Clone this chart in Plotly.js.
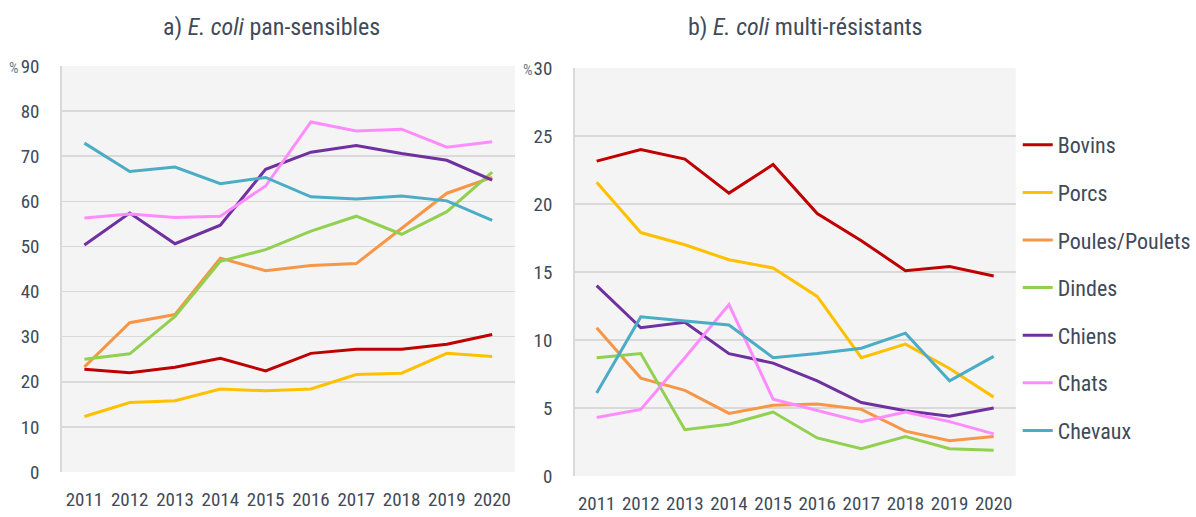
<!DOCTYPE html>
<html><head><meta charset="utf-8">
<script src="https://cdn.plot.ly/plotly-3.0.1.min.js"></script>
<style>html,body{margin:0;padding:0;background:#fff}#c{width:1196px;height:517px}</style>
</head><body><div id="c"></div>
<script>
const years = ['2011','2012','2013','2014','2015','2016','2017','2018','2019','2020'];
const seriesNames = ['Bovins','Porcs','Poules/Poulets','Dindes','Chiens','Chats','Chevaux'];
const seriesColors = ['#C00000','#FFC000','#F79646','#92D050','#7030A0','#FF8CFF','#4BACC6'];

// a) E. coli pan-sensibles (%)
const panBovins   = [22.8,22.0,23.2,25.2,22.4,26.3,27.2,27.2,28.3,30.5];
const panPorcs    = [12.3,15.4,15.8,18.4,18.0,18.4,21.6,21.9,26.3,25.6];
const panPoules   = [23.3,33.1,34.9,47.4,44.6,45.8,46.2,53.9,61.8,65.3];
const panDindes   = [25.0,26.2,34.5,46.7,49.3,53.4,56.7,52.7,57.7,66.5];
const panChiens   = [50.3,57.4,50.6,54.7,67.1,70.9,72.4,70.6,69.1,64.7];
const panChats    = [56.3,57.2,56.4,56.7,63.4,77.6,75.6,76.0,72.0,73.2];
const panChevaux  = [72.9,66.6,67.6,63.9,65.3,61.0,60.5,61.2,60.1,55.8];

// b) E. coli multi-résistants (%)
const mrBovins   = [23.15,24.0,23.3,20.8,22.9,19.3,17.3,15.1,15.4,14.7];
const mrPorcs    = [21.6,17.9,17.0,15.9,15.3,13.2,8.7,9.7,7.9,5.8];
const mrPoules   = [10.9,7.2,6.3,4.6,5.2,5.3,4.9,3.3,2.6,2.9];
const mrDindes   = [8.7,9.0,3.4,3.8,4.7,2.8,2.0,2.9,2.0,1.9];
const mrChiens   = [14.0,10.9,11.3,9.0,8.3,7.0,5.4,4.8,4.4,5.0];
const mrChats    = [4.3,4.9,8.7,12.6,5.65,4.8,4.0,4.7,4.0,3.1];
const mrChevaux  = [6.1,11.7,11.4,11.1,8.7,9.0,9.4,10.5,7.0,8.8];

const panTickVals = [0,10,20,30,40,50,60,70,80,90];
const mrTickVals = [0,5,10,15,20,25,30];

const titleA = 'a) <i>E. coli</i> pan-sensibles';
const titleB = 'b) <i>E. coli</i> multi-résistants';

const FONT = '"Liberation Sans Narrow", "Arial Narrow", "Roboto Condensed", "Liberation Sans", sans-serif';
const TXT = '#404A59';
const GRID = '#D9D9D9';

const panData = [panBovins,panPorcs,panPoules,panDindes,panChiens,panChats,panChevaux];
const mrData = [mrBovins,mrPorcs,mrPoules,mrDindes,mrChiens,mrChats,mrChevaux];

const traces = [];
panData.forEach((ys,i)=>traces.push({
  x: years, y: ys, type:'scatter', mode:'lines', name: seriesNames[i],
  line:{color:seriesColors[i], width:3}, xaxis:'x', yaxis:'y', showlegend:false, hoverinfo:'skip'
}));
mrData.forEach((ys,i)=>traces.push({
  x: years, y: ys, type:'scatter', mode:'lines', name: seriesNames[i], legendgroup:'g'+i,
  line:{color:seriesColors[i], width:3}, xaxis:'x2', yaxis:'y2', showlegend:true, hoverinfo:'skip'
}));

const W=1196,H=517;
const px=(v)=>v/W, py=(v)=>1-v/H;

const xcommon = {type:'category', range:[-0.5,9.5], showgrid:false, zeroline:false,
  showline:false, ticks:'', tickfont:{family:FONT,size:19,color:TXT}, ticklabelstandoff:14, fixedrange:true};
const ycommon = {showgrid:true, gridcolor:GRID, gridwidth:1.5, zeroline:false, showline:true, linecolor:GRID, linewidth:1.5,
  ticks:'', tickfont:{family:FONT,size:19,color:TXT}, ticklabelstandoff:17, fixedrange:true};

const layout = {
  width:W, height:H, margin:{l:0,r:0,t:0,b:0},
  paper_bgcolor:'#FFFFFF', plot_bgcolor:'#F4F4F4',
  font:{family:FONT,color:TXT},
  xaxis: Object.assign({}, xcommon, {domain:[px(62),px(517)], anchor:'y'}),
  yaxis: Object.assign({}, ycommon, {domain:[py(472),py(66)], range:[0,90], tickvals:panTickVals, anchor:'x'}),
  xaxis2: Object.assign({}, xcommon, {domain:[px(577),px(1020)], anchor:'y2'}),
  yaxis2: Object.assign({}, ycommon, {domain:[py(476),py(68)], range:[0,30], tickvals:mrTickVals, anchor:'x2'}),
  showlegend:true,
  legend:{x:px(1022), y:py(124), xanchor:'left', yanchor:'top', bgcolor:'rgba(0,0,0,0)',
    font:{family:FONT,size:22,color:TXT}, tracegroupgap:16, itemwidth:30, traceorder:'grouped'},
  annotations:[
    {text:titleA, xref:'paper', yref:'paper', x:px(273), y:py(27), xanchor:'center', yanchor:'middle', showarrow:false,
     font:{family:FONT,size:24,color:TXT}},
    {text:titleB, xref:'paper', yref:'paper', x:px(809), y:py(27), xanchor:'center', yanchor:'middle', showarrow:false,
     font:{family:FONT,size:24,color:TXT}},
    {text:'%', xref:'paper', yref:'paper', x:px(21), y:py(68), xanchor:'right', yanchor:'middle', showarrow:false,
     font:{family:FONT,size:15,color:'#6A7A90'}},
    {text:'%', xref:'paper', yref:'paper', x:px(537), y:py(70), xanchor:'right', yanchor:'middle', showarrow:false,
     font:{family:FONT,size:15,color:'#6A7A90'}}
  ]
};

Plotly.newPlot('c', traces, layout, {staticPlot:true, displayModeBar:false});
</script></body></html>
